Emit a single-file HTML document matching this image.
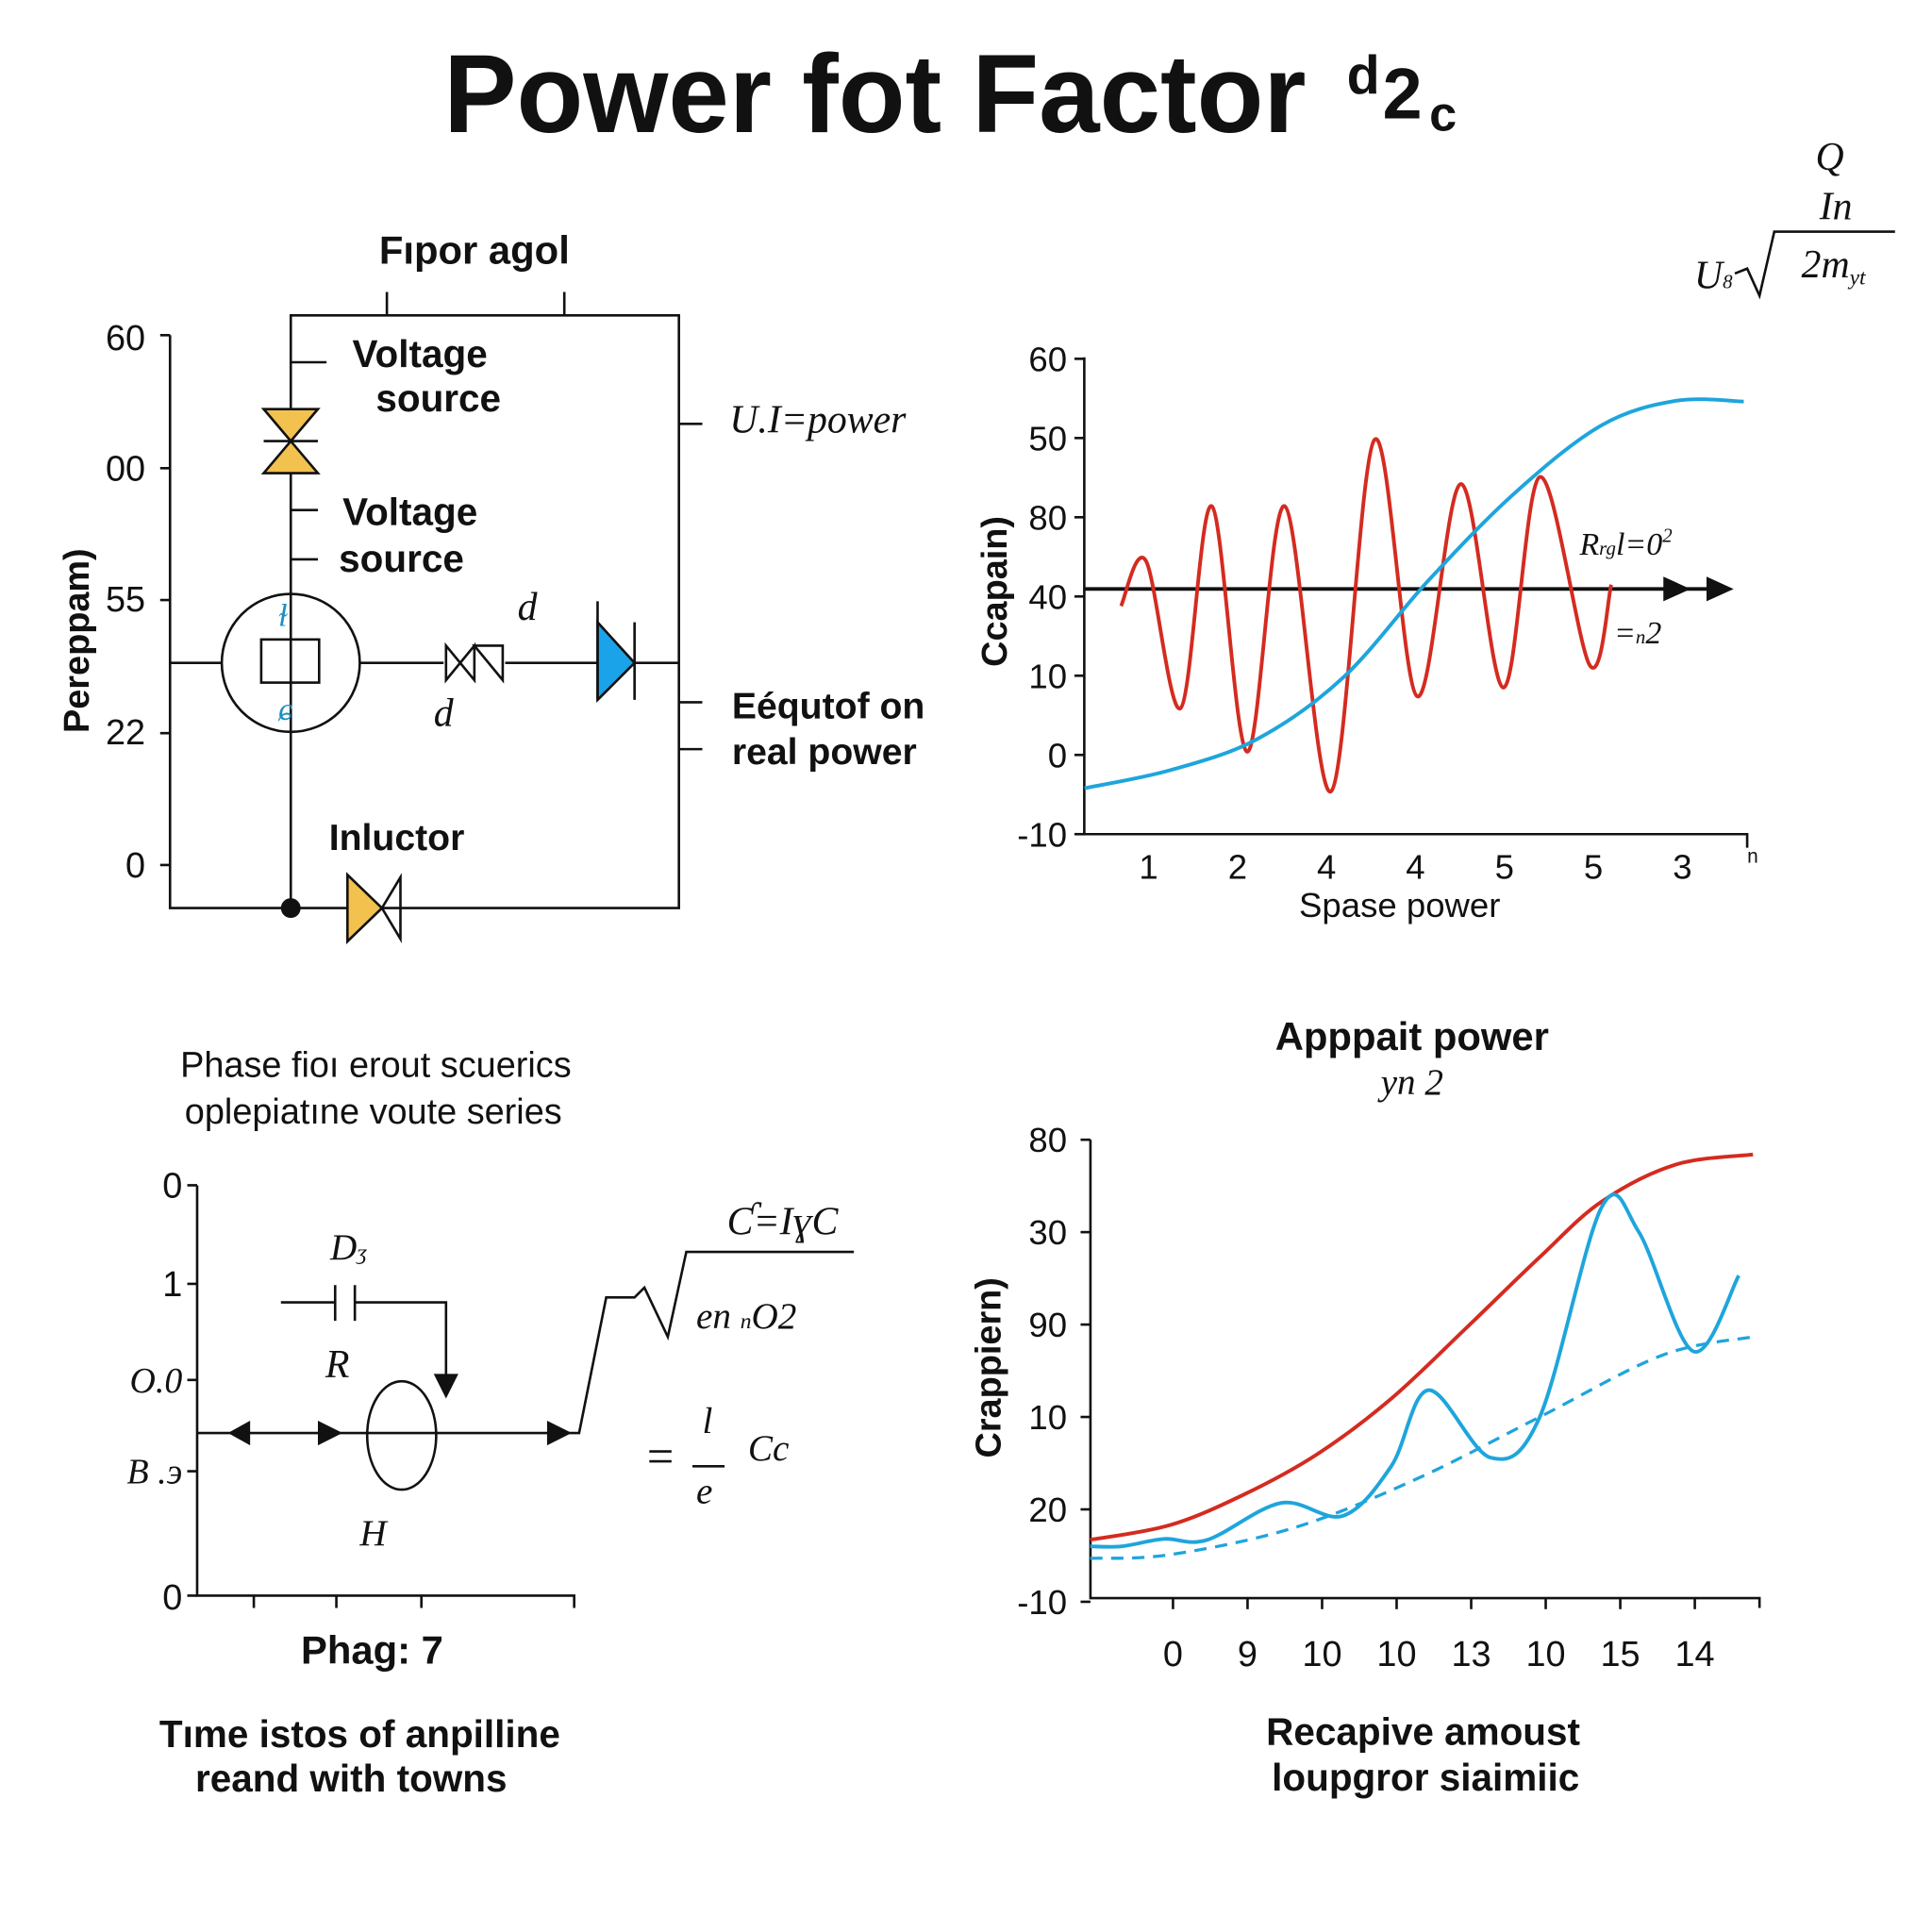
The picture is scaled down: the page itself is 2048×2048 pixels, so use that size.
<!DOCTYPE html>
<html><head><meta charset="utf-8"><style>
html,body{margin:0;padding:0;background:#fff;}
svg{display:block;}
text{font-family:"Liberation Sans",sans-serif;fill:#111;}
.it{font-family:"Liberation Serif",serif;font-style:italic;}
</style></head><body>
<svg id="s" width="2048" height="2048" viewBox="0 0 1568 1568">
<rect width="1568" height="1568" fill="#fff"/>
<g>
<text x="360" y="107" font-size="90" font-weight="bold" textLength="700" lengthAdjust="spacingAndGlyphs">Power fot Factor</text>
<text x="1093" y="76" font-size="44" font-weight="bold">d</text>
<text x="1122" y="96" font-size="58" font-weight="bold">2</text>
<text x="1160" y="106" font-size="40" font-weight="bold">c</text>
</g>
<g>
<text class="it" x="1485" y="138" font-size="32" text-anchor="middle">Q</text>
<text class="it" x="1490" y="178" font-size="32" text-anchor="middle">In</text>
<text class="it" x="1375" y="234" font-size="32">U<tspan font-size="16">8</tspan></text>
<path d="M1408 222 L1418 218 L1428 240 L1440 188 L1538 188" fill="none" stroke="#111" stroke-width="2"/>
<text class="it" x="1462" y="225" font-size="32">2m<tspan font-size="18" dy="6">yt</tspan></text>
</g>

<g stroke="#111" stroke-width="2" fill="none">
<text x="385" y="214" font-size="32" font-weight="bold" text-anchor="middle" stroke="none" fill="#111">Fıpor agol</text>
<path d="M138 272 L138 737 L551 737 L551 256 L236 256 L236 737"/>
<path d="M314 237 L314 256 M458 237 L458 256"/>
<path d="M130 272 L138 272 M130 380 L138 380 M130 487 L138 487 M130 595 L138 595 M130 702 L138 702"/>
<path d="M138 538 L180 538 M292 538 L360 538 M410 538 L551 538"/>
<path d="M236 294 L265 294 M236 414 L258 414 M236 454 L258 454 M551 344 L570 344 M551 570 L570 570 M551 608 L570 608"/>
<circle cx="236" cy="538" r="56"/>
<rect x="212" y="519" width="47" height="35"/>
<path d="M214 332 L258 332 L236 358 Z M214 384 L258 384 L236 358 Z" fill="#f2c14e"/>
<path d="M214 358 L258 358"/>
<path d="M362 524 L385 552 L385 524 L362 552 Z M385 524 L408 552 L408 524 Z"/>
<path d="M485 505 L515 538 L485 568 Z" fill="#1aa3e8"/>
<path d="M485 488 L485 568 M515 505 L515 568"/>
<path d="M282 710 L310 737 L282 764 Z" fill="#f2c14e"/>
<path d="M325 712 L310 737 L325 762 Z"/>
<circle cx="236" cy="737" r="7" fill="#111"/>
</g>
<g font-size="29">
<text x="118" y="284" text-anchor="end">60</text>
<text x="118" y="390" text-anchor="end">00</text>
<text x="118" y="496" text-anchor="end">55</text>
<text x="118" y="604" text-anchor="end">22</text>
<text x="118" y="712" text-anchor="end">0</text>
<text transform="translate(72,520) rotate(-90)" font-size="29" font-weight="bold" text-anchor="middle">Pereppam)</text>
<text x="286" y="298" font-size="31" font-weight="bold">Voltage</text>
<text x="305" y="334" font-size="31" font-weight="bold">source</text>
<text x="278" y="426" font-size="31" font-weight="bold">Voltage</text>
<text x="275" y="464" font-size="31" font-weight="bold">source</text>
<text x="267" y="690" font-size="30" font-weight="bold">Inluctor</text>
<text x="594" y="583" font-size="30" font-weight="bold">Eéqutof on</text>
<text x="594" y="620" font-size="30" font-weight="bold">real power</text>
<text class="it" x="592" y="351" font-size="32">U.I=power</text>
<text class="it" x="420" y="503" font-size="32">d</text>
<text class="it" x="352" y="589" font-size="32">d</text>
<text class="it" x="226" y="508" font-size="26" style="fill:#1a8fc0">ɫ</text>
<text class="it" x="226" y="584" font-size="26" style="fill:#1a8fc0">ɕ</text>
</g>

<g id="c1">
<path d="M880 290 L880 677 L1418 677 L1418 688" stroke="#111" stroke-width="2" fill="none"/>
<path d="M880 478 L1395 478" stroke="#111" stroke-width="3"/>
<path d="M1385 468 L1407 478 L1385 488 Z" fill="#111"/>
<path d="M1350 468 L1372 478 L1350 488 Z" fill="#111"/>
<text transform="translate(817,480) rotate(-90)" font-size="29" font-weight="bold" text-anchor="middle">Ccapain)</text>
<text x="1136" y="744" font-size="28" text-anchor="middle">Spase power</text>
<text class="it" x="1282" y="450" font-size="26">R<tspan font-size="16">rg</tspan>l=0<tspan font-size="16" dy="-10">2</tspan></text>
<text class="it" x="1310" y="522" font-size="26">=<tspan font-size="16">n</tspan>2</text>
<text x="1418" y="700" font-size="16">n</text>
</g>

<g>
<text x="305" y="874" font-size="29" text-anchor="middle">Phase fioı erout scuerics</text>
<text x="303" y="912" font-size="29" text-anchor="middle">oplepiatıne voute series</text>
<g stroke="#111" stroke-width="2" fill="none">
<path d="M160 962 L160 1295 L466 1295 L466 1305 M206 1295 L206 1305 M273 1295 L273 1305 M342 1295 L342 1305"/>
<path d="M152 962 L160 962 M152 1042 L160 1042 M152 1120 L160 1120 M152 1194 L160 1194 M152 1295 L160 1295"/>
<path d="M160 1163 L470 1163 L492 1053 L515 1053 L523 1045 L542 1085 L557 1016 L693 1016"/>
<path d="M228 1057 L272 1057 M272 1043 L272 1072 M288 1043 L288 1072 M288 1057 L362 1057 L362 1118"/>
<ellipse cx="326" cy="1165" rx="28" ry="44"/>
<path d="M527 1178 L545 1178 M527 1186 L545 1186 M562 1190 L588 1190"/>
</g>
<path d="M352 1115 L372 1115 L362 1135 Z M185 1163 L203 1153 L203 1173 Z M278 1163 L258 1153 L258 1173 Z M464 1163 L444 1153 L444 1173 Z" fill="#111"/>
<g font-size="29">
<text x="148" y="972" text-anchor="end">0</text>
<text x="148" y="1052" text-anchor="end">1</text>
<text class="it" x="148" y="1130" text-anchor="end">O.0</text>
<text class="it" x="148" y="1204" text-anchor="end">B .э</text>
<text x="148" y="1306" text-anchor="end">0</text>
<text x="302" y="1350" font-size="32" font-weight="bold" text-anchor="middle">Phag: 7</text>
<text x="292" y="1418" font-size="31" font-weight="bold" text-anchor="middle">Tıme istos of anpilline</text>
<text x="285" y="1454" font-size="31" font-weight="bold" text-anchor="middle">reand with towns</text>
<text class="it" x="268" y="1022" font-size="30">D<tspan font-size="18">ʒ</tspan></text>
<text class="it" x="264" y="1118" font-size="32">R</text>
<text class="it" x="292" y="1254" font-size="30">H</text>
<text class="it" x="590" y="1002" font-size="32">Ƈ=IɣC</text>
<text class="it" x="565" y="1078" font-size="30">en <tspan font-size="18">n</tspan>O2</text>
<text class="it" x="570" y="1163" font-size="30">l</text>
<text class="it" x="565" y="1220" font-size="30">e</text>
<text class="it" x="607" y="1185" font-size="30">Cc</text>
</g>
</g>

<g id="c2">
<text x="1146" y="852" font-size="32" font-weight="bold" text-anchor="middle">Apppait power</text>
<text class="it" x="1146" y="888" font-size="30" text-anchor="middle">yn 2</text>
<path d="M885 925 L885 1297 L1428 1297 L1428 1305" stroke="#111" stroke-width="2" fill="none"/>
<text transform="translate(812,1110) rotate(-90)" font-size="29" font-weight="bold" text-anchor="middle">Crappiern)</text>
<text x="1155" y="1416" font-size="31" font-weight="bold" text-anchor="middle">Recapive amoust</text>
<text x="1157" y="1453" font-size="31" font-weight="bold" text-anchor="middle">loupgror siaimiic</text>
</g>
</svg>
<script>
const NS="http://www.w3.org/2000/svg";
const c1YTicks=["60","50","80","40","10","0","-10"];
const c1XTicks=["1","2","4","4","5","5","3"];
const c1RedX=[0.69,0.97,1.36,1.71,2.11,2.53,3.05,3.54,4.02,4.51,4.99,5.40,5.96,6.20];
const c1RedY=[2.88,3.45,1.59,4.14,1.04,4.14,0.54,4.98,1.74,4.42,1.85,4.51,2.13,3.15];
const c1BlueX=[0.28,1.25,2.22,3.19,4.16,5.12,6.09,6.93,7.69];
const c1BlueY=[0.58,0.81,1.2,1.98,3.22,4.31,5.16,5.47,5.46];
const c2YTicks=["80","30","90","10","20","-10"];
const c2XTicks=["0","9","10","10","13","10","15","14"];
const c2RedX=[-0.11,0.96,1.95,2.94,3.93,4.93,5.92,6.75,7.74,8.78];
const c2RedY=[0.67,0.83,1.16,1.6,2.2,2.96,3.73,4.33,4.73,4.84];
const c2BlueX=[-0.11,0.31,0.88,1.46,2.45,3.28,3.93,4.43,5.26,5.92,6.75,7.25,7.98,8.59];
const c2BlueY=[0.6,0.6,0.68,0.67,1.07,0.93,1.47,2.29,1.56,2.0,4.27,4.0,2.71,3.53];
const c2DashX=[-0.11,0.96,2.62,4.27,5.92,7.57,8.81];
const c2DashY=[0.47,0.51,0.8,1.33,2.0,2.67,2.87];

const x1=v=>860+v*72.2, y1=v=>677-v*64.3;
const x2=v=>891.5+v*60.5, y2=v=>1300-v*75;

function smooth(xs,ys,fx,fy){
  const p=xs.map((x,i)=>[fx(x),fy(ys[i])]);
  let d="M"+p[0][0]+" "+p[0][1];
  for(let i=0;i<p.length-1;i++){
    const p0=p[i-1]||p[i],p1=p[i],p2=p[i+1],p3=p[i+2]||p2;
    const c1=[p1[0]+(p2[0]-p0[0])/6,p1[1]+(p2[1]-p0[1])/6];
    const c2=[p2[0]-(p3[0]-p1[0])/6,p2[1]-(p3[1]-p1[1])/6];
    d+=" C"+c1.join(" ")+" "+c2.join(" ")+" "+p2.join(" ");
  }
  return d;
}
function mk(tag,attrs,parent){const e=document.createElementNS(NS,tag);for(const k in attrs)e.setAttribute(k,attrs[k]);parent.appendChild(e);return e;}
const g1=document.getElementById("c1"), g2=document.getElementById("c2");

c1YTicks.forEach((t,i)=>{
  const y=y1(6-i);
  const tk=mk("path",{d:`M872 ${y} L880 ${y}`,stroke:"#111","stroke-width":2},g1);
  
  
  const tx=mk("text",{x:866,y:y+10,"font-size":28,"text-anchor":"end"},g1);tx.textContent=t;
  
  
});
c1XTicks.forEach((t,i)=>{
  const tx=mk("text",{x:x1(i+1),y:713,"font-size":28,"text-anchor":"middle"},g1);tx.textContent=t;
  
  
});
const r1=mk("path",{d:smooth(c1RedX,c1RedY,x1,y1),fill:"none",stroke:"#d42b20","stroke-width":3},g1);


const b1=mk("path",{d:smooth(c1BlueX,c1BlueY,x1,y1),fill:"none",stroke:"#1ea5dc","stroke-width":3},g1);



c2YTicks.forEach((t,i)=>{
  const y=y2(5-i);
  const tk=mk("path",{d:`M877 ${y} L885 ${y}`,stroke:"#111","stroke-width":2},g2);
  
  
  const tx=mk("text",{x:866,y:y+10,"font-size":28,"text-anchor":"end"},g2);tx.textContent=t;
  
  
});
c2XTicks.forEach((t,i)=>{
  const x=x2(i+1);
  const tk=mk("path",{d:`M${x} 1297 L${x} 1306`,stroke:"#111","stroke-width":2},g2);
  
  
  const tx=mk("text",{x:x,y:1352,"font-size":29,"text-anchor":"middle"},g2);tx.textContent=t;
  
  
});
const r2=mk("path",{d:smooth(c2RedX,c2RedY,x2,y2),fill:"none",stroke:"#d42b20","stroke-width":3},g2);


const b2=mk("path",{d:smooth(c2BlueX,c2BlueY,x2,y2),fill:"none",stroke:"#1ea5dc","stroke-width":3},g2);


const d2=mk("path",{d:smooth(c2DashX,c2DashY,x2,y2),fill:"none",stroke:"#1ea5dc","stroke-width":2.5,"stroke-dasharray":"10 7"},g2);


</script>
</body></html>
